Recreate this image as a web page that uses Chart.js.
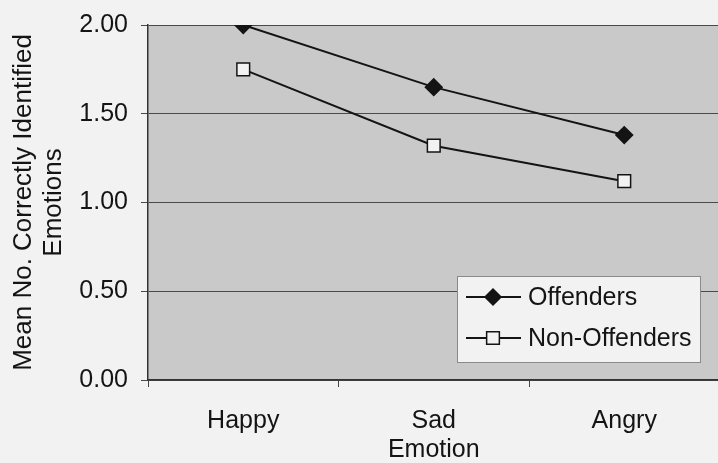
<!DOCTYPE html>
<html>
<head>
<meta charset="utf-8">
<script src="https://cdn.jsdelivr.net/npm/chart.js@4/dist/chart.umd.min.js"></script>
<style>
  html, body { margin: 0; padding: 0; background: #f2f2f2; overflow: hidden; }
  #wrap { width: 730px; height: 463px; }
</style>
</head>
<body>
<div id="wrap"><canvas id="linechart" width="730" height="463"></canvas></div>
<script>
// data
const emotions = ['Happy', 'Sad', 'Angry'];
const offenders = [2.00, 1.65, 1.38];
const nonOffenders = [1.75, 1.32, 1.12];
const yTicks = [0, 0.5, 1, 1.5, 2];

const FONT = 'Liberation Sans, Arial, sans-serif';
const INK = '#141414';

// gray plot area behind the lines
const plotBg = {
  id: 'plotBg',
  beforeDraw(chart) {
    const {ctx, chartArea: a} = chart;
    ctx.save();
    ctx.fillStyle = '#c9c9c9';
    ctx.fillRect(a.left, a.top, a.right - a.left, a.bottom - a.top);
    ctx.restore();
  }
};

// legend box drawn inside the plot, lower right
const boxLegend = {
  id: 'boxLegend',
  afterDraw(chart) {
    const ctx = chart.ctx;
    const x0 = 457, y0 = 276, w = 243, h = 86;
    ctx.save();
    ctx.fillStyle = '#f2f2f2';
    ctx.fillRect(x0, y0, w, h);
    ctx.strokeStyle = '#8a8a8a';
    ctx.lineWidth = 1;
    ctx.strokeRect(x0 + 0.5, y0 + 0.5, w, h);
    chart.data.datasets.forEach((ds, i) => {
      const y = y0 + 21 + i * 41;
      ctx.strokeStyle = INK;
      ctx.lineWidth = 2;
      ctx.beginPath();
      ctx.moveTo(x0 + 9, y);
      ctx.lineTo(x0 + 64, y);
      ctx.stroke();
      ctx.fillStyle = ds.pointBackgroundColor;
      ctx.strokeStyle = INK;
      ctx.lineWidth = 1.5;
      Chart.helpers.drawPoint(ctx, {
        pointStyle: ds.pointStyle,
        radius: ds.pointRadius,
        borderWidth: 1.5
      }, x0 + 36, y);
      ctx.fillStyle = INK;
      ctx.font = '25px ' + FONT;
      ctx.textBaseline = 'middle';
      ctx.fillText(ds.label, x0 + 71, y + 1);
    });
    ctx.restore();
  }
};

new Chart('linechart', {
  type: 'line',
  data: {
    labels: emotions,
    datasets: [{
      label: 'Offenders',
      data: offenders,
      borderColor: INK,
      borderWidth: 2,
      pointStyle: 'rectRot',
      pointRadius: 8,
      pointBackgroundColor: INK,
      pointBorderColor: INK,
      tension: 0
    }, {
      label: 'Non-Offenders',
      data: nonOffenders,
      borderColor: INK,
      borderWidth: 2,
      pointStyle: 'rect',
      pointRadius: 9,
      pointBackgroundColor: '#f2f2f2',
      pointBorderColor: INK,
      pointBorderWidth: 1.5,
      tension: 0
    }]
  },
  options: {
    responsive: false,
    animation: false,
    layout: { padding: { top: 25, right: 6, left: 0, bottom: 0 } },
    plugins: { legend: { display: false }, tooltip: { enabled: false } },
    scales: {
      x: {
        offset: true,
        grid: {
          offset: true,
          drawOnChartArea: false,
          color: '#444',
          tickLength: 7
        },
        border: { color: '#333', width: 1.5 },
        ticks: { color: INK, font: { family: FONT, size: 25 }, padding: 19 },
        title: {
          display: true,
          text: 'Emotion',
          color: INK,
          font: { family: FONT, size: 25, lineHeight: 1 },
          padding: { top: 0, bottom: 0 }
        },
        afterFit(scale) { scale.height = 83; }
      },
      y: {
        min: 0,
        max: 2,
        afterBuildTicks(scale) { scale.ticks = yTicks.map(v => ({value: v})); },
        grid: { color: '#4a4a4a', lineWidth: 1, tickLength: 7 },
        border: { color: '#333', width: 1.5 },
        ticks: {
          color: INK,
          font: { family: FONT, size: 25 },
          padding: 13,
          callback: v => Number(v).toFixed(2)
        },
        title: {
          display: true,
          text: ['Mean No. Correctly Identified', 'Emotions'],
          color: INK,
          font: { family: FONT, size: 26, lineHeight: 1.15 },
          padding: { top: 9, bottom: 0 }
        },
        afterFit(scale) {
          scale.width = 148;
          scale.paddingTop = 0;
          scale.paddingBottom = 0;
        }
      }
    }
  },
  plugins: [plotBg, boxLegend]
});
</script>
</body>
</html>
